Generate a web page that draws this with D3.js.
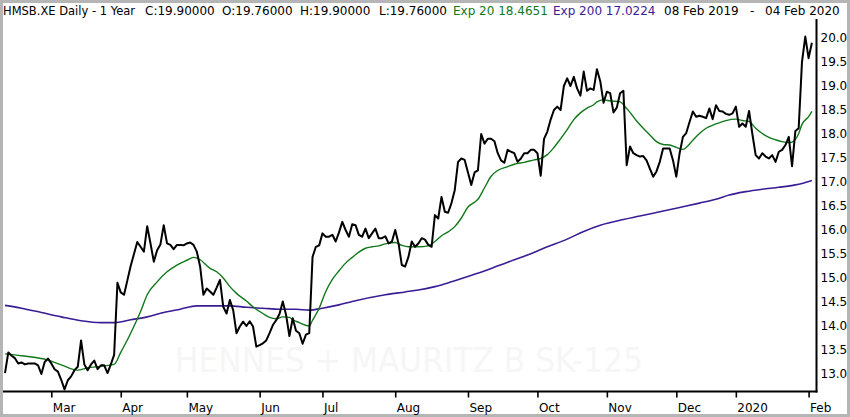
<!DOCTYPE html>
<html><head><meta charset="utf-8">
<script src="https://cdn.jsdelivr.net/npm/d3@7/dist/d3.min.js"></script>
<style>html,body{margin:0;padding:0;background:#fff;overflow:hidden}</style>
</head><body><svg id="c" width="850" height="417"></svg>
<script>
// Daily close, one value per trading day (08 Feb 2019 .. 04 Feb 2020)
const closeValues = [
13.02,13.45,13.38,13.33,13.22,13.24,13.2,13.22,13.22,13.22,
13.18,13.0,13.25,13.32,13.22,13.1,13.05,12.88,12.68,12.87,
12.95,13.08,13.15,13.7,13.2,13.08,13.2,13.28,13.1,13.18,
13.18,13.02,13.2,13.4,14.9,14.7,14.65,14.95,15.25,15.5,
15.75,15.65,15.55,16.08,15.72,15.34,15.58,15.7,16.1,15.72,
15.69,15.6,15.69,15.69,15.68,15.72,15.74,15.69,15.55,15.24,
14.65,14.78,14.72,14.65,14.8,14.96,14.4,14.26,14.54,14.33,
13.85,13.99,14.09,14.0,14.1,13.99,13.57,13.6,13.64,13.7,
13.85,14.02,14.12,14.25,14.51,14.23,13.79,14.16,13.9,13.85,
13.63,13.82,13.85,15.44,15.65,15.68,15.93,15.86,15.86,15.9,
15.76,15.95,16.17,16.0,15.86,16.12,16.1,15.9,15.86,16.03,
15.83,15.93,16.03,15.83,15.83,15.87,15.72,15.76,16.0,15.72,
15.27,15.24,15.44,15.76,15.65,15.72,15.83,15.8,15.69,15.65,
16.31,16.24,16.69,16.38,16.36,16.56,16.83,17.42,17.49,17.46,
17.2,16.94,17.2,17.24,18.0,17.8,17.9,17.9,17.85,17.6,
17.45,17.4,17.67,17.63,17.6,17.42,17.49,17.6,17.6,17.67,
17.67,17.6,17.13,17.9,18.05,18.3,18.5,18.57,18.5,19.0,
19.16,19.0,19.19,18.95,18.8,19.3,18.9,18.95,18.92,19.35,
19.1,18.65,18.88,18.85,18.45,18.55,18.85,18.9,17.35,17.74,
17.6,17.56,17.53,17.54,17.45,17.28,17.11,17.22,17.42,17.7,
17.7,17.7,17.45,17.11,17.6,17.94,18.02,18.25,18.47,18.36,
18.38,18.36,18.33,18.53,18.31,18.6,18.48,18.47,18.42,18.4,
18.43,18.57,18.15,18.22,18.15,18.48,18.0,17.56,17.49,17.6,
17.53,17.49,17.56,17.42,17.63,17.67,17.77,17.94,17.33,18.06,
18.12,19.5,20.03,19.58,19.9
];
// Exp 20 (read at selected trading days)
const ema20Index = [0,5,13,17,22,25,29,33,35,38,41,43,46,49,52,55,57,59,62,64,66,68,70,73,75,78,80,82,84,86,87,89,92,93,95,97,99,101,103,105,107,109,111,113,115,118,120,122,125,128,130,132,134,136,138,140,142,143,145,147,149,152,154,157,160,162,164,166,168,170,172,174,176,178,179,181,183,186,188,189,191,193,195,197,199,201,203,205,206,208,210,212,215,218,221,223,225,227,229,231,233,235,237,238,240,241,243,244];
const ema20Values = [13.42,13.38,13.29,13.19,13.08,13.13,13.16,13.2,13.45,13.85,14.3,14.65,14.92,15.13,15.27,15.37,15.43,15.38,15.2,15.13,15.0,14.82,14.68,14.52,14.4,14.26,14.18,14.15,14.19,14.18,14.13,14.07,14.0,14.12,14.37,14.72,14.97,15.15,15.31,15.43,15.54,15.62,15.65,15.67,15.71,15.74,15.68,15.65,15.65,15.67,15.76,15.88,15.96,16.07,16.25,16.48,16.58,16.64,16.88,17.12,17.24,17.32,17.37,17.41,17.46,17.49,17.57,17.72,17.9,18.09,18.3,18.44,18.54,18.61,18.67,18.71,18.69,18.67,18.53,18.45,18.27,18.12,17.98,17.84,17.78,17.77,17.72,17.68,17.72,17.87,18.01,18.12,18.21,18.28,18.31,18.28,18.26,18.12,18.01,17.93,17.88,17.84,17.82,17.83,18.01,18.2,18.36,18.47];
// Exp 200 (read at selected trading days)
const ema200Index = [0,5,11,17,23,29,33,38,43,48,53,58,63,68,73,78,83,88,92,96,101,105,115,121,125,130,135,140,146,152,158,164,170,175,180,187,192,198,204,210,215,219,224,229,234,239,241,244];
const ema200Values = [14.43,14.37,14.28,14.19,14.11,14.07,14.07,14.13,14.19,14.28,14.35,14.42,14.42,14.42,14.39,14.37,14.35,14.35,14.33,14.37,14.44,14.51,14.65,14.71,14.75,14.82,14.92,15.03,15.17,15.33,15.48,15.65,15.81,15.97,16.1,16.22,16.29,16.38,16.47,16.56,16.64,16.73,16.8,16.85,16.89,16.94,16.97,17.03];
const monthLabels = ["Mar","Apr","May","Jun","Jul","Aug","Sep","Oct","Nov","Dec","2020","Feb"];
const monthIndex = [14,35,55,77,96,118,140,161,182,203,221,243];
const priceTicks = [13.0,13.5,14.0,14.5,15.0,15.5,16.0,16.5,17.0,17.5,18.0,18.5,19.0,19.5,20.0];
const headerTexts = ["HMSB.XE Daily -  1 Year","C:19.90000","O:19.76000","H:19.90000","L:19.76000","Exp 20 18.4651","Exp 200 17.0224","08 Feb 2019","-","04 Feb 2020"];
const watermarkText = "HENNES + MAURITZ B SK-125";

const GREEN = "#11781a", PURPLE = "#3a1c95";
const svg = d3.select("#c");
const x = d3.scaleLinear().domain([0, closeValues.length - 1]).range([5, 811.9]);
const y = d3.scaleLinear().domain([13, 20]).range([374, 38]);

// frame
svg.append("rect").attr("x",0).attr("y",0).attr("width",850).attr("height",417).attr("fill","#fff");
svg.append("rect").attr("x",1.5).attr("y",1.5).attr("width",847).attr("height",414)
  .attr("fill","none").attr("stroke","#b5b5b5").attr("stroke-width",3);

// watermark
svg.append("text").attr("x",175).attr("y",372).attr("textLength",468).attr("lengthAdjust","spacingAndGlyphs")
  .attr("font-family","DejaVu Sans Condensed, DejaVu Sans").attr("font-size",33)
  .attr("fill","#f6f6f6").text(watermarkText);

// header
const hdrX = [3,145,222,300,379,453,553,664,750,765];
const hdrW = [132,null,null,null,null,null,null,null,null,null];
const hdrC = ["#000","#000","#000","#000","#000",GREEN,PURPLE,"#000","#000","#000"];
const hdr = svg.append("g").attr("font-family","DejaVu Sans").attr("font-size",12);
headerTexts.forEach((t,i)=>{
  const e = hdr.append("text").attr("x",hdrX[i]).attr("y",15).attr("fill",hdrC[i]).text(t);
  if (hdrW[i]) e.attr("textLength",hdrW[i]).attr("lengthAdjust","spacingAndGlyphs");
});

// clip
svg.append("clipPath").attr("id","pc").append("rect").attr("x",3).attr("y",19).attr("width",813).attr("height",372);
const plot = svg.append("g").attr("clip-path","url(#pc)");

const lineSparse = (idx, vals) => d3.line().x((d,i)=>x(idx[i])).y(d=>y(d)).curve(d3.curveMonotoneX)(vals);
plot.append("path").attr("d", lineSparse(ema200Index, ema200Values))
  .attr("fill","none").attr("stroke",PURPLE).attr("stroke-width",1.6);
plot.append("path").attr("d", lineSparse(ema20Index, ema20Values))
  .attr("fill","none").attr("stroke",GREEN).attr("stroke-width",1.4);
plot.append("path").attr("d", d3.line().x((d,i)=>x(i)).y(d=>y(d))(closeValues))
  .attr("fill","none").attr("stroke","#000").attr("stroke-width",2).attr("stroke-linejoin","round");

// bottom axis
const xAxis = d3.axisBottom(x).tickValues(monthIndex).tickFormat((d,i)=>monthLabels[i]).tickSize(6).tickPadding(6);
const gx = svg.append("g").attr("transform","translate(0,391.5)").call(xAxis);
gx.select(".domain").remove();
gx.selectAll(".tick line").attr("stroke","#000").attr("stroke-width",1.6);
gx.selectAll(".tick text").attr("text-anchor","start").attr("dx",1).attr("font-family","DejaVu Sans")
  .attr("font-size",12).attr("fill","#000");
svg.append("line").attr("x1",3).attr("x2",817.5).attr("y1",391.5).attr("y2",391.5).attr("stroke","#000").attr("stroke-width",2);

// right axis
const yAxis = d3.axisRight(y).tickValues(priceTicks).tickFormat(d3.format(".1f")).tickSize(0).tickPadding(4);
const gy = svg.append("g").attr("transform","translate(816.5,0)").call(yAxis);
gy.select(".domain").remove();
gy.selectAll(".tick text").attr("font-family","DejaVu Sans").attr("font-size",12).attr("fill","#000");
svg.append("line").attr("x1",816.5).attr("x2",816.5).attr("y1",19).attr("y2",392.5).attr("stroke","#000").attr("stroke-width",2);
</script></body></html>
